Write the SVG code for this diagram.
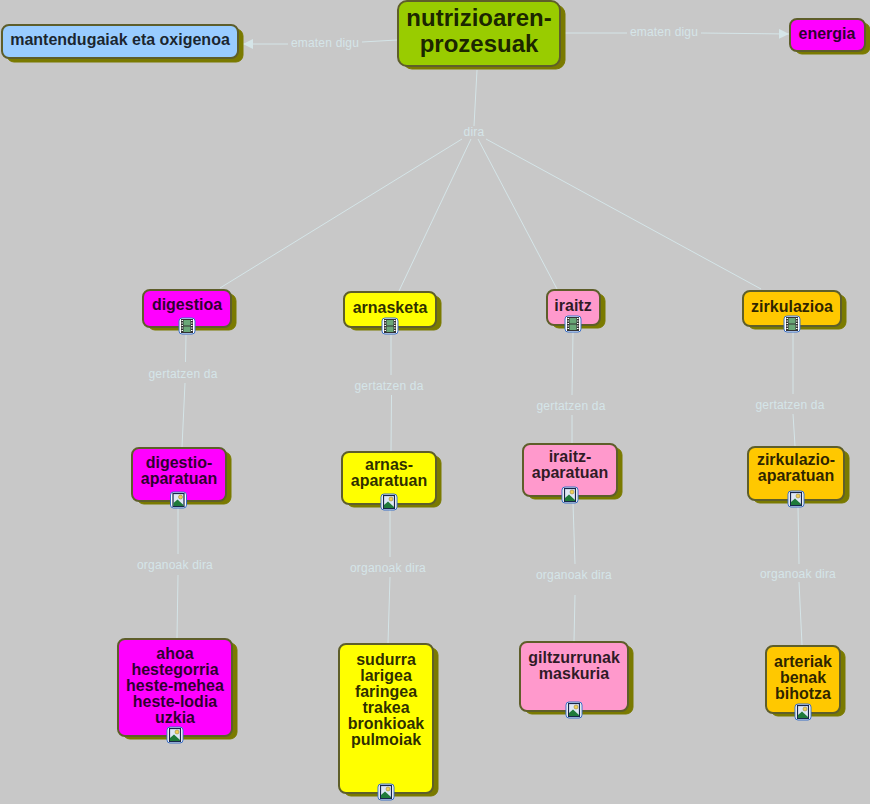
<svg xmlns="http://www.w3.org/2000/svg" xmlns:xlink="http://www.w3.org/1999/xlink" width="870" height="804" viewBox="0 0 870 804">
<style>
.s{fill:#7a7a00;stroke:#7a7a00;stroke-width:1}
.b{stroke:#5e5e2a;stroke-width:2}
.t{font-family:"Liberation Sans",Arial,sans-serif;font-weight:700;font-size:16px;text-anchor:middle;fill:#000;fill-opacity:.84}
.big{font-size:24px}
.l{font-family:"Liberation Sans",Arial,sans-serif;font-weight:400;font-size:12px;text-anchor:middle;fill:#d5e5e8;letter-spacing:.2px}
.c{stroke:#d5e5e8;stroke-width:1;fill:none}
</style>
<defs>
<marker id="a" markerUnits="userSpaceOnUse" markerWidth="12" markerHeight="12" refX="10" refY="5" orient="auto"><path d="M0 0L10 5L0 10Z" fill="#d5e5e8"/></marker>
<g id="frame"><rect x="-8" y="-8" width="16" height="16" rx="3" fill="#fff" stroke="#3a70c8" stroke-width="1"/></g>
<g id="film"><use xlink:href="#frame" href="#frame"/><rect x="-6" y="-7" width="12" height="14" fill="#333"/><rect x="-3.500" y="-6" width="7" height="5.500" fill="#6aa878"/><rect x="-3.500" y=".5" width="7" height="5.500" fill="#6aa878"/><path d="M-5.500-5.500h1.500M-5.500-3h1.500M-5.500-.5h1.500M-5.500 2h1.500M-5.500 4.500h1.500M4-5.500h1.500M4-3h1.500M4-.5h1.500M4 2h1.500M4 4.500h1.500" stroke="#fff" stroke-width="1.200"/></g>
<g id="pic"><use xlink:href="#frame" href="#frame"/><rect x="-5.500" y="-6.500" width="11" height="13" fill="#dfe8f5" stroke="#16264a" stroke-width="1.200"/><circle cx="2" cy="-3" r="2" fill="#f2cf55" stroke="#8a7a30" stroke-width=".5"/><path d="M-5 6L-5 3L-1-.5L5 5L5 6Z" fill="#1f7a3a"/></g>
</defs>
<rect width="870" height="804" fill="#c8c8c8"/>
<g id="connectors">
<path class="c" marker-end="url(#a)" d="M397 40L362 42M288 44L243 44"/>
<path class="c" marker-end="url(#a)" d="M561 33L627 33M701 33L789 34"/>
<path class="c" d="M477 70L474 126M462 139L220 288M471 139L399 291M478 139L557 289M486 139L761 289"/>
<path class="c" d="M186 335L185.500 362M185 383L182 447"/>
<path class="c" d="M391 335L391 375M391.500 395L391 451"/>
<path class="c" d="M573 332L572 395M572 415L572 443"/>
<path class="c" d="M793 332L793 394M793 414L795 446"/>
<path class="c" d="M178 508L178 554M178 575L177 638"/>
<path class="c" d="M390 510L390 557M390 577L388 643"/>
<path class="c" d="M573 503L575 564M575 595L574 641"/>
<path class="c" d="M798 507L799 564M799 582L802 645"/>
</g>
<g id="edge-labels">
<text class="l" x="325" y="47">ematen digu</text>
<text class="l" x="664" y="36">ematen digu</text>
<text class="l" x="474" y="136">dira</text>
<text class="l" x="183" y="378">gertatzen da</text>
<text class="l" x="389" y="390">gertatzen da</text>
<text class="l" x="571" y="410">gertatzen da</text>
<text class="l" x="790" y="409">gertatzen da</text>
<text class="l" x="175" y="569">organoak dira</text>
<text class="l" x="388" y="572">organoak dira</text>
<text class="l" x="574" y="579">organoak dira</text>
<text class="l" x="798" y="578">organoak dira</text>
</g>
<g id="n-nutrizio"><rect class="s" x="403" y="5" width="162" height="64" rx="9"/><rect class="b" x="398" y="1" width="162" height="65" rx="9" fill="#99cc00"/><text class="t big" x="479" y="26">nutrizioaren-</text><text class="t big" x="479" y="52">prozesuak</text></g>
<g id="n-mantendu"><rect class="s" x="7" y="29" width="236" height="33" rx="7"/><rect class="b" x="2" y="25" width="236" height="33" rx="7" fill="#99ccff"/><text class="t" x="120" y="45">mantendugaiak eta oxigenoa</text></g>
<g id="n-energia"><rect class="s" x="795" y="23" width="75" height="31" rx="7"/><rect class="b" x="790" y="19" width="75" height="32" rx="7" fill="#ff00ff"/><text class="t" x="827" y="39">energia</text></g>
<g id="n-digestioa"><rect class="s" x="148" y="294" width="88" height="36" rx="7"/><rect class="b" x="143" y="290" width="88" height="37" rx="7" fill="#ff00ff"/><text class="t" x="187" y="310">digestioa</text><use xlink:href="#film" href="#film" x="187" y="326"/></g>
<g id="n-arnasketa"><rect class="s" x="349" y="296" width="92" height="34" rx="7"/><rect class="b" x="344" y="292" width="92" height="35" rx="7" fill="#ffff00"/><text class="t" x="390" y="313">arnasketa</text><use xlink:href="#film" href="#film" x="390" y="326"/></g>
<g id="n-iraitz"><rect class="s" x="552" y="294" width="53" height="34" rx="7"/><rect class="b" x="547" y="290" width="53" height="35" rx="7" fill="#ff99cc"/><text class="t" x="573" y="311">iraitz</text><use xlink:href="#film" href="#film" x="573" y="324"/></g>
<g id="n-zirkulazioa"><rect class="s" x="748" y="295" width="98" height="34" rx="7"/><rect class="b" x="743" y="291" width="98" height="35" rx="7" fill="#ffc800"/><text class="t" x="792" y="312">zirkulazioa</text><use xlink:href="#film" href="#film" x="792" y="324"/></g>
<g id="n-digestio-ap"><rect class="s" x="137" y="452" width="94" height="52" rx="7"/><rect class="b" x="132" y="448" width="94" height="53" rx="7" fill="#ff00ff"/><text class="t" x="179" y="468">digestio-</text><text class="t" x="179" y="484">aparatuan</text><use xlink:href="#pic" href="#pic" x="178.500" y="500"/></g>
<g id="n-arnas-ap"><rect class="s" x="347" y="456" width="94" height="51" rx="7"/><rect class="b" x="342" y="452" width="94" height="52" rx="7" fill="#ffff00"/><text class="t" x="389" y="470">arnas-</text><text class="t" x="389" y="486">aparatuan</text><use xlink:href="#pic" href="#pic" x="389" y="502"/></g>
<g id="n-iraitz-ap"><rect class="s" x="528" y="448" width="94" height="51" rx="7"/><rect class="b" x="523" y="444" width="94" height="52" rx="7" fill="#ff99cc"/><text class="t" x="570" y="462">iraitz-</text><text class="t" x="570" y="478">aparatuan</text><use xlink:href="#pic" href="#pic" x="570" y="495"/></g>
<g id="n-zirkulazio-ap"><rect class="s" x="753" y="451" width="96" height="52" rx="7"/><rect class="b" x="748" y="447" width="96" height="53" rx="7" fill="#ffc800"/><text class="t" x="796" y="465">zirkulazio-</text><text class="t" x="796" y="481">aparatuan</text><use xlink:href="#pic" href="#pic" x="796" y="499"/></g>
<g id="n-ahoa"><rect class="s" x="123" y="643" width="114" height="96" rx="7"/><rect class="b" x="118" y="639" width="114" height="97" rx="7" fill="#ff00ff"/><text class="t" x="175" y="659">ahoa</text><text class="t" x="175" y="675">hestegorria</text><text class="t" x="175" y="691">heste-mehea</text><text class="t" x="175" y="707">heste-lodia</text><text class="t" x="175" y="723">uzkia</text><use xlink:href="#pic" href="#pic" x="175" y="735"/></g>
<g id="n-sudurra"><rect class="s" x="344" y="648" width="94" height="148" rx="7"/><rect class="b" x="339" y="644" width="94" height="149" rx="7" fill="#ffff00"/><text class="t" x="386" y="665">sudurra</text><text class="t" x="386" y="681">larigea</text><text class="t" x="386" y="697">faringea</text><text class="t" x="386" y="713">trakea</text><text class="t" x="386" y="729">bronkioak</text><text class="t" x="386" y="745">pulmoiak</text><use xlink:href="#pic" href="#pic" x="386" y="792"/></g>
<g id="n-giltzurrunak"><rect class="s" x="525" y="646" width="108" height="68" rx="7"/><rect class="b" x="520" y="642" width="108" height="69" rx="7" fill="#ff99cc"/><text class="t" x="574" y="663">giltzurrunak</text><text class="t" x="574" y="679">maskuria</text><use xlink:href="#pic" href="#pic" x="574" y="710"/></g>
<g id="n-arteriak"><rect class="s" x="771" y="650" width="74" height="66" rx="7"/><rect class="b" x="766" y="646" width="74" height="67" rx="7" fill="#ffc800"/><text class="t" x="803" y="667">arteriak</text><text class="t" x="803" y="683">benak</text><text class="t" x="803" y="699">bihotza</text><use xlink:href="#pic" href="#pic" x="803" y="712"/></g>
</svg>
